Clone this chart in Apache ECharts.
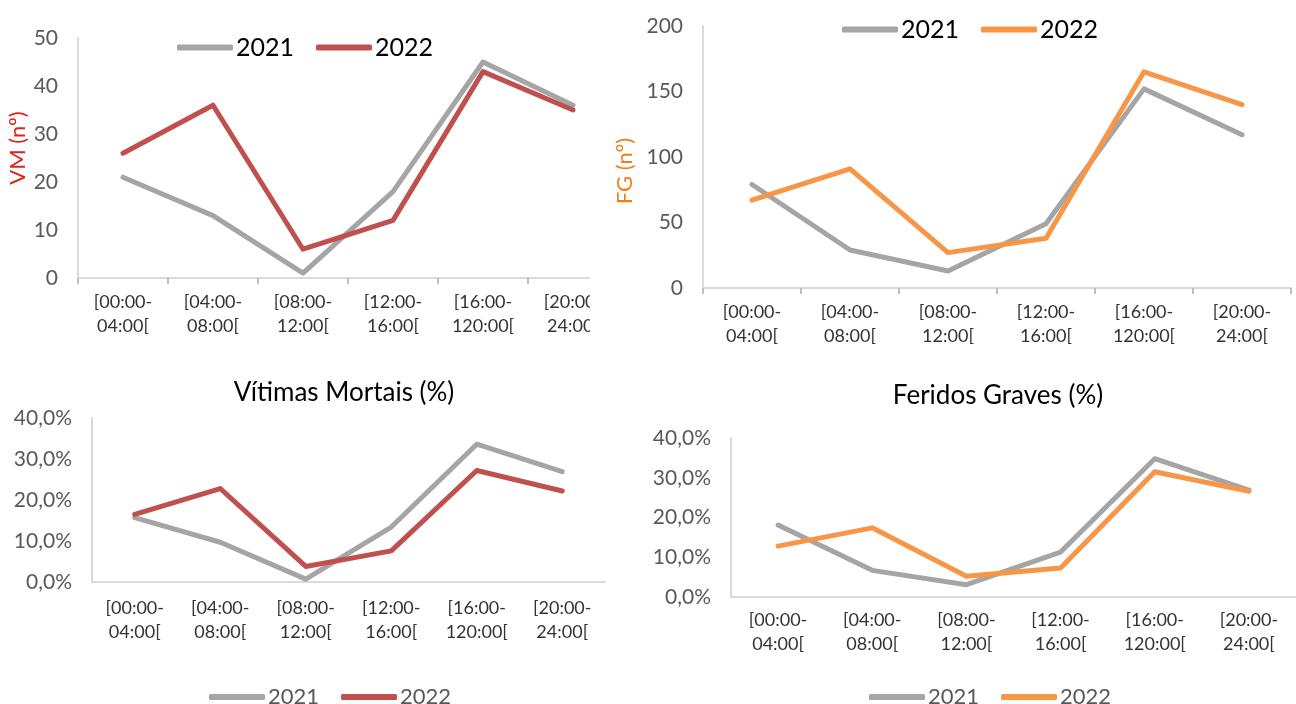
<!DOCTYPE html>
<html><head><meta charset="utf-8">
<script src="https://cdn.jsdelivr.net/npm/echarts@6/dist/echarts.min.js"></script>
<style>
html,body{margin:0;padding:0;background:#fff;width:1296px;height:704px;overflow:hidden}
.layer{position:absolute;left:0;top:0;width:1296px;height:704px}
#wrap1{position:absolute;left:0;top:0;width:590px;height:704px;overflow:hidden}
</style></head><body>
<div id="wrap1"><div id="c1" class="layer"></div></div>
<div id="c2" class="layer"></div>
<div id="c3" class="layer"></div>
<div id="c4" class="layer"></div>
<script>
const categories = ['[00:00-\n04:00[', '[04:00-\n08:00[', '[08:00-\n12:00[', '[12:00-\n16:00[', '[16:00-\n120:00[', '[20:00-\n24:00['];
const years = ['2021', '2022'];
const vm2021 = [21, 13, 1, 18, 45, 36];
const vm2022 = [26, 36, 6, 12, 43, 35];
const fg2021 = [79, 29, 13, 49, 152, 117];
const fg2022 = [67, 91, 27, 38, 165, 140];
const vmPct2021 = [15.7, 9.7, 0.7, 13.4, 33.6, 26.9];
const vmPct2022 = [16.5, 22.8, 3.8, 7.6, 27.2, 22.2];
const fgPct2021 = [18.1, 6.7, 3.1, 11.3, 34.8, 26.9];
const fgPct2022 = [12.8, 17.4, 5.2, 7.3, 31.5, 26.6];
const titleVM = 'Vítimas Mortais (%)';
const titleFG = 'Feridos Graves (%)';
const nameVM = 'VM (nº)';
const nameFG = 'FG (nº)';

const FONT = 'Lato, "Open Sans", sans-serif';
const GRAY = '#a5a5a5', RED = '#c0504d', ORANGE = '#f79646';
const pctFmt = v => v.toFixed(1).replace('.', ',') + '%';

function build(o) {
  return {
    animation: false,
    textStyle: { fontFamily: FONT },
    grid: Object.assign({ containLabel: false }, o.grid),
    legend: {
      data: years, left: o.legend.left, top: o.legend.top,
      icon: 'roundRect', itemWidth: 56, itemHeight: 6, itemGap: o.legend.gap,
      textStyle: { fontFamily: FONT, fontSize: o.legend.size, color: o.legend.color, padding: [0, 0, 0, -2] }
    },
    xAxis: {
      type: 'category', data: categories, boundaryGap: true,
      axisLine: { lineStyle: { color: '#d9d9d9', width: 2 } },
      axisTick: { show: o.ticks, length: 6, lineStyle: { color: '#bfbfbf', width: 2 } },
      axisLabel: { fontFamily: FONT, fontSize: 18, color: '#333333', lineHeight: 24, margin: o.xMargin, interval: 0 }
    },
    yAxis: {
      type: 'value', min: 0, max: o.max, interval: o.interval,
      splitLine: { show: false },
      axisLine: { show: true, lineStyle: { color: '#d9d9d9', width: 2 } },
      axisTick: { show: false },
      axisLabel: { fontFamily: FONT, fontSize: 21, color: '#595959', margin: 20, formatter: o.fmt }
    },
    graphic: o.graphic,
    series: [
      { name: years[0], type: 'line', data: o.d1, symbol: 'none', lineStyle: { color: GRAY, width: 5, cap: 'round', join: 'round' }, itemStyle: { color: GRAY } },
      { name: years[1], type: 'line', data: o.d2, symbol: 'none', lineStyle: { color: o.c2, width: 5, cap: 'round', join: 'round' }, itemStyle: { color: o.c2 } }
    ]
  };
}

echarts.init(document.getElementById('c1')).setOption(build({
  grid: { left: 78, top: 38, width: 540, height: 240 },
  legend: { left: 172, top: 30, gap: 22, size: 25, color: '#000' },
  ticks: true, xMargin: 12, max: 50, interval: 10, fmt: null,
  d1: vm2021, d2: vm2022, c2: RED,
  graphic: [{ type: 'text', x: 18, y: 148, rotation: Math.PI / 2,
    style: { text: nameVM, font: '22px ' + FONT, fill: '#d9261c', align: 'center', verticalAlign: 'middle' } }]
}));

echarts.init(document.getElementById('c2')).setOption(build({
  grid: { left: 703, top: 26, width: 588, height: 262 },
  legend: { left: 837, top: 12, gap: 22, size: 25, color: '#000' },
  ticks: true, xMargin: 12, max: 200, interval: 50, fmt: null,
  d1: fg2021, d2: fg2022, c2: ORANGE,
  graphic: [{ type: 'text', x: 625, y: 171, rotation: Math.PI / 2,
    style: { text: nameFG, font: '22px ' + FONT, fill: '#f07f1a', align: 'center', verticalAlign: 'middle' } }]
}));

echarts.init(document.getElementById('c3')).setOption(build({
  grid: { left: 92, top: 418, width: 513, height: 164 },
  legend: { left: 204, top: 681, gap: 22, size: 22, color: '#595959' },
  ticks: false, xMargin: 14, max: 40, interval: 10, fmt: pctFmt,
  d1: vmPct2021, d2: vmPct2022, c2: RED,
  graphic: [{ type: 'text', x: 344, y: 393,
    style: { text: titleVM, font: '26px ' + FONT, fill: '#000', align: 'center', verticalAlign: 'middle' } }]
}));

echarts.init(document.getElementById('c4')).setOption(build({
  grid: { left: 731, top: 438, width: 565, height: 159 },
  legend: { left: 864, top: 681, gap: 22, size: 22, color: '#595959' },
  ticks: false, xMargin: 11, max: 40, interval: 10, fmt: pctFmt,
  d1: fgPct2021, d2: fgPct2022, c2: ORANGE,
  graphic: [{ type: 'text', x: 998, y: 396,
    style: { text: titleFG, font: '26px ' + FONT, fill: '#000', align: 'center', verticalAlign: 'middle' } }]
}));
</script>
</body></html>
